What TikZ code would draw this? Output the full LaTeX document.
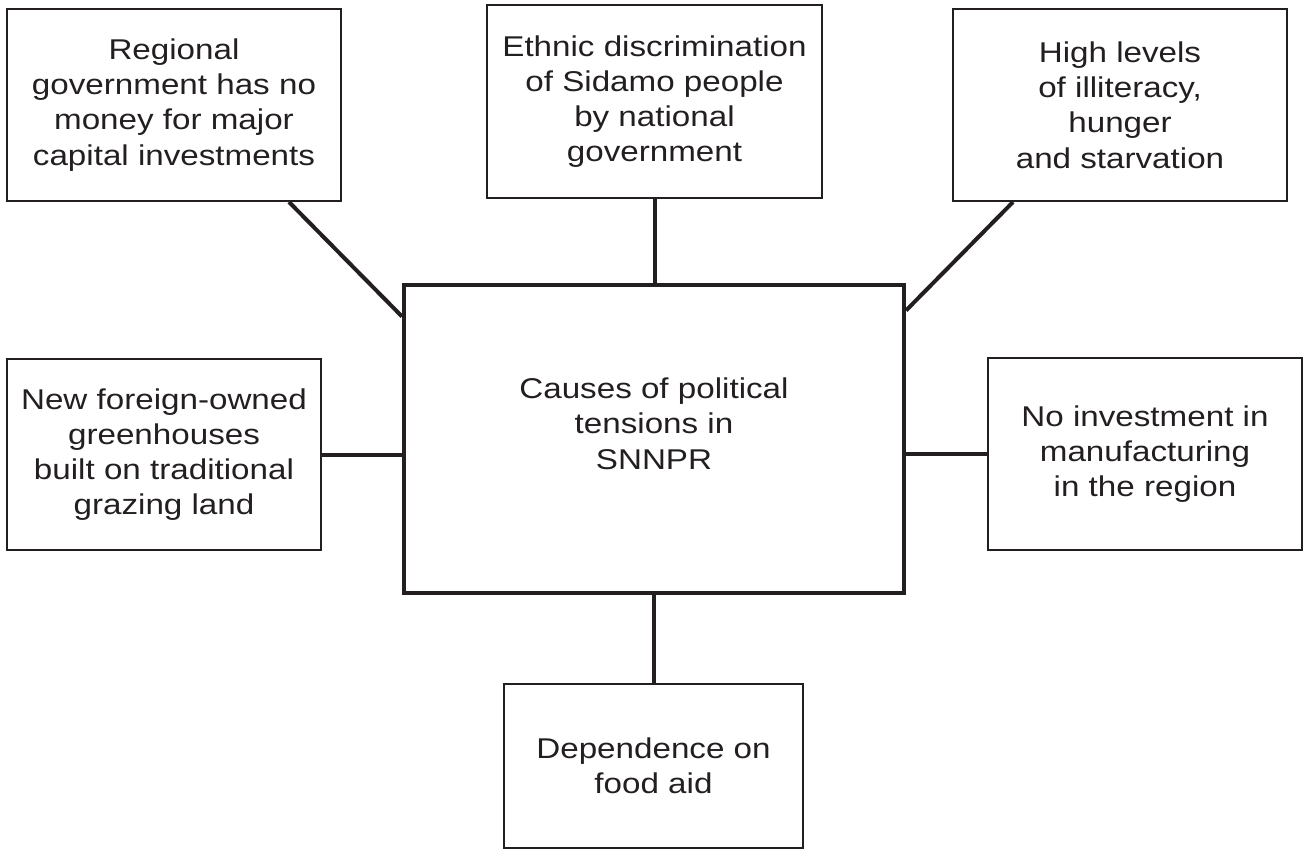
\documentclass[tikz,border=0pt]{standalone}
\usepackage{fontspec}
\setmainfont[FakeStretch=1.16]{Liberation Sans}
\usetikzlibrary{calc}
\definecolor{inkgray}{RGB}{35,31,32}
\tikzset{
  boxbase/.style={draw=inkgray, align=center, text=inkgray,
                  font=\fontsize{14.3}{17.6}\selectfont, inner sep=4pt},
  cause/.style={boxbase, line width=1pt,
                execute at begin node={\rule{0pt}{16pt}}},
  hub/.style={boxbase, line width=2pt, text depth=15pt},
  link/.style={draw=inkgray, line width=2pt},
}

\begin{document}
\begin{tikzpicture}[x=0.5pt, y=-0.5pt]
  \useasboundingbox (0,0) rectangle (1304,850);

  % central box
  \node[hub, minimum width=250pt, minimum height=154pt]
    (hub) at (654,438.5) {Causes of political\\tensions in\\SNNPR};

  % causes round it
  \node[cause, minimum width=167pt, minimum height=96pt] (govt) at (174,105)
    {Regional\\government has no\\money for major\\capital investments};
  \node[cause, minimum width=167.5pt, minimum height=96.5pt] (ethnic) at (654.5,101.5)
    {Ethnic discrimination\\of Sidamo people\\by national\\government};
  \node[cause, minimum width=167pt, minimum height=96pt] (hunger) at (1120,105)
    {High levels\\of illiteracy,\\hunger\\and starvation};
  \node[cause, minimum width=157pt, minimum height=95.5pt] (greenh) at (164,454.5)
    {New foreign-owned\\greenhouses\\built on traditional\\grazing land};
  \node[cause, minimum width=157pt, minimum height=96pt] (manuf) at (1145,454)
    {No investment in\\manufacturing\\in the region};
  \node[cause, minimum width=149.5pt, minimum height=82pt] (foodaid) at (653.5,766)
    {Dependence on\\food aid};

  % connectors
  \draw[link] ([xshift=-26.5pt]govt.south east) -- ([yshift=-17pt]hub.north west);
  \draw[link] (ethnic.south) -- (ethnic.south |- hub.north);
  \draw[link] ([xshift=30.5pt]hunger.south west) -- ([yshift=-14pt]hub.north east);
  \draw[link] (greenh.east) -- (greenh.east -| hub.west);
  \draw[link] (manuf.west) -- (manuf.west -| hub.east);
  \draw[link] (foodaid.north) -- (foodaid.north |- hub.south);
\end{tikzpicture}
\end{document}
